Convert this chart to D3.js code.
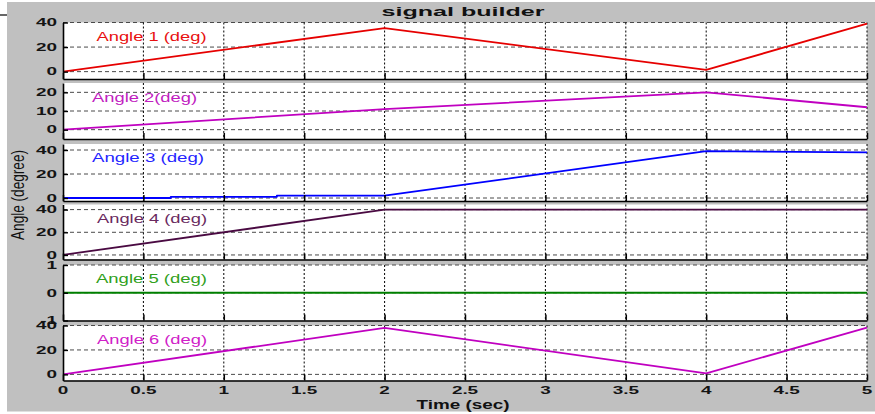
<!DOCTYPE html>
<html><head><meta charset="utf-8">
<script src="https://cdn.jsdelivr.net/npm/d3@7"></script>
<style>html,body{margin:0;padding:0;background:#fff;}svg{display:block;}</style>
</head><body>
<svg id="chart" width="875" height="414"></svg>
<script>
// ---- data ----
const title = "signal builder";
const xLabel = "Time (sec)";
const yLabel = "Angle (degree)";
const xTicks = [0, 0.5, 1, 1.5, 2, 2.5, 3, 3.5, 4, 4.5, 5];
const seriesNames = ["Angle 1 (deg)", "Angle 2(deg)", "Angle 3 (deg)", "Angle 4 (deg)", "Angle 5 (deg)", "Angle 6 (deg)"];
const angle1T = [0, 2, 4, 5];
const angle1V = [0, 35.5, 1.5, 39];
const angle2T = [0, 2, 4, 5];
const angle2V = [0, 11, 20, 12];
const angle3T = [0, 0.67, 0.67, 1.33, 1.33, 2, 4, 5];
const angle3V = [0, 0, 1, 1, 2, 2, 39, 38];
const angle4T = [0, 2, 5];
const angle4V = [0, 40, 40];
const angle5T = [0, 5];
const angle5V = [0, 0];
const angle6T = [0, 2, 4, 5];
const angle6V = [0, 38, 0.8, 38.3];
const yTicks1 = [0, 20, 40];
const yTicks2 = [0, 10, 20];
const yTicks3 = [0, 20, 40];
const yTicks4 = [0, 20, 40];
const yTicks5 = [-1, 0, 1];
const yTicks6 = [0, 20, 40];

// ---- layout ----
const svg = d3.select("#chart");
const FONT = "'Liberation Sans', Arial, sans-serif";
const x = d3.scaleLinear().domain([0, 5]).range([63, 867]);
const panels = [
  {t: angle1T, v: angle1V, ticks: yTicks1, dom: [-6, 40], top: 22.5, bot: 79, color: "#e60000", lab: "#e81010", lx: 96.5, ly: 40.5, lw: 110},
  {t: angle2T, v: angle2V, ticks: yTicks2, dom: [-5, 25], top: 83, bot: 139, color: "#c000c0", lab: "#c020c0", lx: 92, ly: 101.5, lw: 105},
  {t: angle3T, v: angle3V, ticks: yTicks3, dom: [-2.5, 45], top: 144, bot: 201, color: "#0000ff", lab: "#2424ff", lx: 92, ly: 162, lw: 112},
  {t: angle4T, v: angle4V, ticks: yTicks4, dom: [-4, 44.5], top: 204.5, bot: 259.5, color: "#4a0a42", lab: "#6a2a60", lx: 97, ly: 222.5, lw: 110},
  {t: angle5T, v: angle5V, ticks: yTicks5, dom: [-1, 1], top: 265, bot: 320.5, color: "#008000", lab: "#30a020", lx: 96, ly: 283, lw: 111},
  {t: angle6T, v: angle6V, ticks: yTicks6, dom: [-5, 40], top: 325.5, bot: 380.5, color: "#c000c0", lab: "#d020c8", lx: 97, ly: 344, lw: 110}
];

// background
svg.append("rect").attr("x", 7).attr("y", 2).attr("width", 868).attr("height", 409.5).attr("fill", "#c0c0c0");
svg.append("line").attr("x1", 0).attr("x2", 7).attr("y1", 15).attr("y2", 15).attr("stroke", "#000").attr("stroke-width", 1.2);

function stretchText(g, txt, px, py, anchor, size, weight, sx, fill) {
  return g.append("text")
    .attr("transform", `translate(${px},${py}) scale(${sx},1)`)
    .attr("text-anchor", anchor)
    .attr("font-family", FONT)
    .attr("font-size", size)
    .attr("font-weight", weight)
    .attr("fill", fill)
    .text(txt);
}

panels.forEach((p, i) => {
  const y = d3.scaleLinear().domain(p.dom).range([p.bot, p.top]);
  const g = svg.append("g");
  g.append("rect").attr("x", x(0)).attr("y", p.top).attr("width", x(5) - x(0)).attr("height", p.bot - p.top).attr("fill", "#fff");
  // horizontal dashed grid
  g.selectAll(".hg").data(p.ticks.filter(d => y(d) < p.bot - 1)).enter().append("line")
    .attr("x1", x(0)).attr("x2", x(5)).attr("y1", d => y(d)).attr("y2", d => y(d))
    .attr("stroke", "#4a4a4a").attr("stroke-width", 1).attr("stroke-dasharray", "4,3");
  // vertical dotted grid
  g.selectAll(".vg").data(xTicks.slice(1)).enter().append("line")
    .attr("x1", d => x(d)).attr("x2", d => x(d)).attr("y1", p.top).attr("y2", p.bot)
    .attr("stroke", "#000").attr("stroke-width", 1).attr("stroke-dasharray", "2,2");
  // data line
  const line = d3.line().x(d => x(d[0])).y(d => y(d[1]));
  g.append("path").datum(p.t.map((t, k) => [t, p.v[k]]))
    .attr("d", line).attr("fill", "none").attr("stroke", p.color).attr("stroke-width", 1.8).attr("stroke-linejoin", "round");
  // bottom axis
  const xa = d3.axisBottom(x).tickValues(xTicks).tickSizeInner(-6).tickSizeOuter(0).tickFormat(i === 5 ? d3.format("") : () => "");
  const xg = g.append("g").attr("transform", `translate(0,${p.bot})`).call(xa);
  xg.select(".domain").attr("stroke", "#000").attr("stroke-width", 1.6);
  xg.selectAll(".tick line").attr("stroke", "#000").attr("stroke-width", 1.5);
  xg.selectAll(".tick text").remove();
  // left axis
  const ya = d3.axisLeft(y).tickValues(p.ticks).tickSizeInner(-5).tickSizeOuter(0).tickFormat(() => "");
  const yg = g.append("g").attr("transform", `translate(${x(0)},0)`).call(ya);
  yg.select(".domain").attr("stroke", "#000").attr("stroke-width", 1.6);
  yg.selectAll(".tick line").attr("stroke", "#000").attr("stroke-width", 1.4);
  yg.selectAll(".tick text").remove();
  // y tick labels
  p.ticks.forEach(tv => {
    stretchText(svg, String(tv), 57, y(tv) + 3.8, "end", 10.5, "bold", 1.8, "#141414");
  });
  // series label
  g.append("text").attr("x", p.lx).attr("y", p.ly)
    .attr("font-family", FONT).attr("font-size", 12.5).attr("fill", p.lab)
    .attr("textLength", p.lw).attr("lengthAdjust", "spacingAndGlyphs")
    .text(seriesNames[i]);
});

// x tick labels (bottom panel)
xTicks.forEach(t => {
  stretchText(svg, d3.format("")(t), x(t), 394, "middle", 10.5, "bold", 1.8, "#141414");
});

// title
svg.append("text").attr("x", 463).attr("y", 15.5).attr("text-anchor", "middle")
  .attr("font-family", FONT).attr("font-size", 12.5).attr("font-weight", "bold").attr("fill", "#111")
  .attr("textLength", 163).attr("lengthAdjust", "spacingAndGlyphs").text(title);
// x label
svg.append("text").attr("x", 463).attr("y", 409.3).attr("text-anchor", "middle")
  .attr("font-family", FONT).attr("font-size", 12).attr("font-weight", "bold").attr("fill", "#111")
  .attr("textLength", 93).attr("lengthAdjust", "spacingAndGlyphs").text(xLabel);
// y label
svg.append("text").attr("transform", "translate(23.5,195) rotate(-90) scale(1,1.45)")
  .attr("text-anchor", "middle")
  .attr("font-family", FONT).attr("font-size", 12.5).attr("fill", "#111")
  .attr("textLength", 90).attr("lengthAdjust", "spacingAndGlyphs").text(yLabel);
</script>
</body></html>
